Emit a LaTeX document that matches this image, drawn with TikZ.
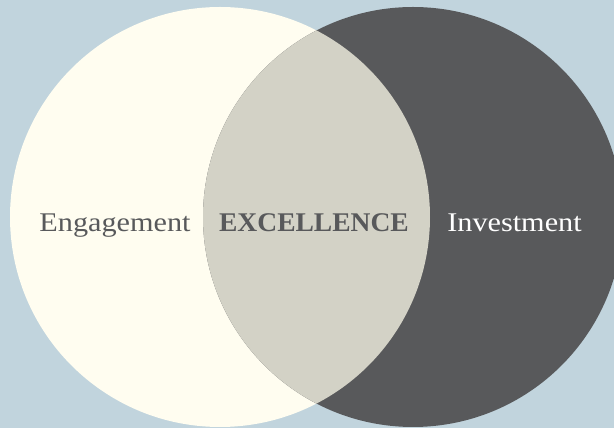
\documentclass[tikz,border=0pt]{standalone}
\usepackage{fontspec}
\setmainfont{Liberation Serif}
\newfontfamily\widefont[FakeStretch=1.12]{Liberation Serif}
\newfontfamily\boldwide[FakeStretch=1.02]{Liberation Serif Bold}
\definecolor{skyback}{HTML}{C1D4DD}
\definecolor{creamfill}{HTML}{FFFDF0}
\definecolor{slatefill}{HTML}{58595B}
\definecolor{mixfill}{HTML}{D3D2C6}
\begin{document}
\begin{tikzpicture}[x=1pt,y=1pt,
    word/.style={anchor=base, inner sep=0pt, font=\widefont\fontsize{27}{30}\selectfont, text=slatefill}]
            \clip (0,0) rectangle (614,428);
            \fill[skyback] (0,0) rectangle (614,428);
            \fill[creamfill] (220,211) circle (210);
            \fill[slatefill] (413,211) circle (210);
            \begin{scope}
            \clip (220,211) circle (210);
            \fill[mixfill] (413,211) circle (210);
            \end{scope}
            \node[word] (engage) at (115,196.5) {Engagement};
            \node[word, font=\boldwide\fontsize{27}{30}\selectfont] (excel) at (314,196.5) {EXCELLENCE};
            \node[word, text=white] (invest) at (514.5,196.5) {Investment};
        \end{tikzpicture}
\end{document}
